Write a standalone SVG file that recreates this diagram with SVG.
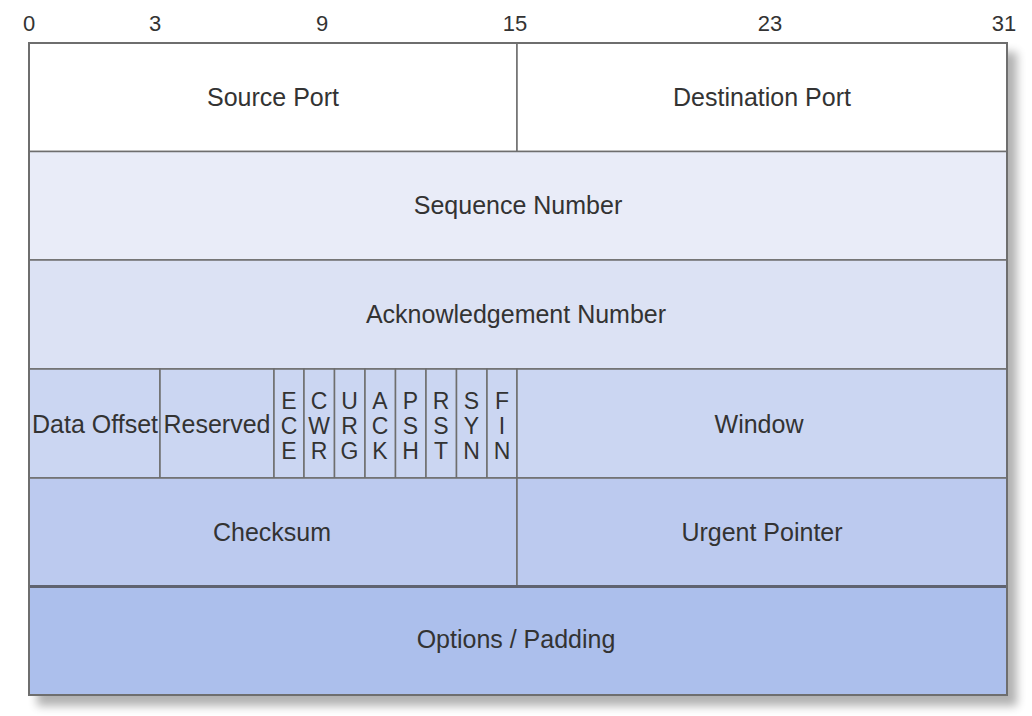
<svg xmlns="http://www.w3.org/2000/svg" width="1032" height="716" viewBox="0 0 1032 716">
<style>
  .lbl { font-family: "Liberation Sans", Arial, sans-serif; font-size: 25px; fill: #333333; text-anchor: middle; }
  .num { font-family: "Liberation Sans", Arial, sans-serif; font-size: 22px; fill: #333333; text-anchor: middle; }
  .flag { font-family: "Liberation Sans", Arial, sans-serif; font-size: 23px; fill: #333333; text-anchor: middle; }
  .cell { stroke: #6e6e6e; stroke-width: 1.5; }
  .r1 { fill: #ffffff; }
  .r2 { fill: #e9ecf8; }
  .r3 { fill: #dce2f4; }
  .r4 { fill: #cbd6f2; }
  .r5 { fill: #bccaef; }
  .r6 { fill: #acbfec; }
</style>
<defs>
  <filter id="shadow" x="-5%" y="-5%" width="115%" height="115%">
    <feGaussianBlur stdDeviation="5"/>
  </filter>
</defs>
<rect width="1032" height="716" fill="#ffffff"/>

<!-- shadow -->
<rect x="37" y="52" width="980" height="654" fill="#000000" opacity="0.3" filter="url(#shadow)"/>

<!-- bit ruler -->
<g id="ruler">
  <text class="num" x="29" y="31">0</text>
  <text class="num" x="155" y="31">3</text>
  <text class="num" x="322" y="31">9</text>
  <text class="num" x="515" y="31">15</text>
  <text class="num" x="770" y="31">23</text>
  <text class="num" x="1004" y="31">31</text>
</g>

<g id="source-port">
  <rect class="cell r1" x="29" y="43" width="488" height="108.5"/>
  <text class="lbl" x="273" y="106">Source Port</text>
</g>
<g id="destination-port">
  <rect class="cell r1" x="517" y="43" width="490" height="108.5"/>
  <text class="lbl" x="762" y="106">Destination Port</text>
</g>

<g id="sequence-number">
  <rect class="cell r2" x="29" y="151.5" width="978" height="108.5"/>
  <text class="lbl" x="518" y="214">Sequence Number</text>
</g>

<g id="acknowledgement-number">
  <rect class="cell r3" x="29" y="260" width="978" height="109"/>
  <text class="lbl" x="516" y="323">Acknowledgement Number</text>
</g>

<g id="data-offset">
  <rect class="cell r4" x="29" y="369" width="131" height="109"/>
  <text class="lbl" x="95" y="433">Data Offset</text>
</g>
<g id="reserved">
  <rect class="cell r4" x="160" y="369" width="114" height="109"/>
  <text class="lbl" x="217" y="433">Reserved</text>
</g>
<g id="flag-ece">
  <rect class="cell r4" x="274" y="369" width="30" height="109"/>
  <text class="flag" x="289" y="409">E</text><text class="flag" x="289" y="434">C</text><text class="flag" x="289" y="459">E</text>
</g>
<g id="flag-cwr">
  <rect class="cell r4" x="304" y="369" width="30.5" height="109"/>
  <text class="flag" x="319" y="409">C</text><text class="flag" x="319" y="434">W</text><text class="flag" x="319" y="459">R</text>
</g>
<g id="flag-urg">
  <rect class="cell r4" x="334.5" y="369" width="30.5" height="109"/>
  <text class="flag" x="349.5" y="409">U</text><text class="flag" x="349.5" y="434">R</text><text class="flag" x="349.5" y="459">G</text>
</g>
<g id="flag-ack">
  <rect class="cell r4" x="365" y="369" width="30.5" height="109"/>
  <text class="flag" x="380" y="409">A</text><text class="flag" x="380" y="434">C</text><text class="flag" x="380" y="459">K</text>
</g>
<g id="flag-psh">
  <rect class="cell r4" x="395.5" y="369" width="30.5" height="109"/>
  <text class="flag" x="410.5" y="409">P</text><text class="flag" x="410.5" y="434">S</text><text class="flag" x="410.5" y="459">H</text>
</g>
<g id="flag-rst">
  <rect class="cell r4" x="426" y="369" width="30.5" height="109"/>
  <text class="flag" x="441" y="409">R</text><text class="flag" x="441" y="434">S</text><text class="flag" x="441" y="459">T</text>
</g>
<g id="flag-syn">
  <rect class="cell r4" x="456.5" y="369" width="30.5" height="109"/>
  <text class="flag" x="471.5" y="409">S</text><text class="flag" x="471.5" y="434">Y</text><text class="flag" x="471.5" y="459">N</text>
</g>
<g id="flag-fin">
  <rect class="cell r4" x="487" y="369" width="30" height="109"/>
  <text class="flag" x="502" y="409">F</text><text class="flag" x="502" y="434">I</text><text class="flag" x="502" y="459">N</text>
</g>
<g id="window">
  <rect class="cell r4" x="517" y="369" width="490" height="109"/>
  <text class="lbl" x="759" y="433">Window</text>
</g>

<g id="checksum">
  <rect class="cell r5" x="29" y="478" width="488" height="108"/>
  <text class="lbl" x="272" y="541">Checksum</text>
</g>
<g id="urgent-pointer">
  <rect class="cell r5" x="517" y="478" width="490" height="108"/>
  <text class="lbl" x="762" y="541">Urgent Pointer</text>
</g>

<g id="options-padding">
  <rect class="cell r6" x="29" y="586" width="978" height="109"/>
  <line x1="29" y1="586.5" x2="1007" y2="586.5" stroke="#5f6370" stroke-width="3"/>
  <text class="lbl" x="516" y="648">Options / Padding</text>
</g>

<rect x="29" y="43" width="978" height="652" fill="none" stroke="#6e6e6e" stroke-width="2"/>
</svg>
